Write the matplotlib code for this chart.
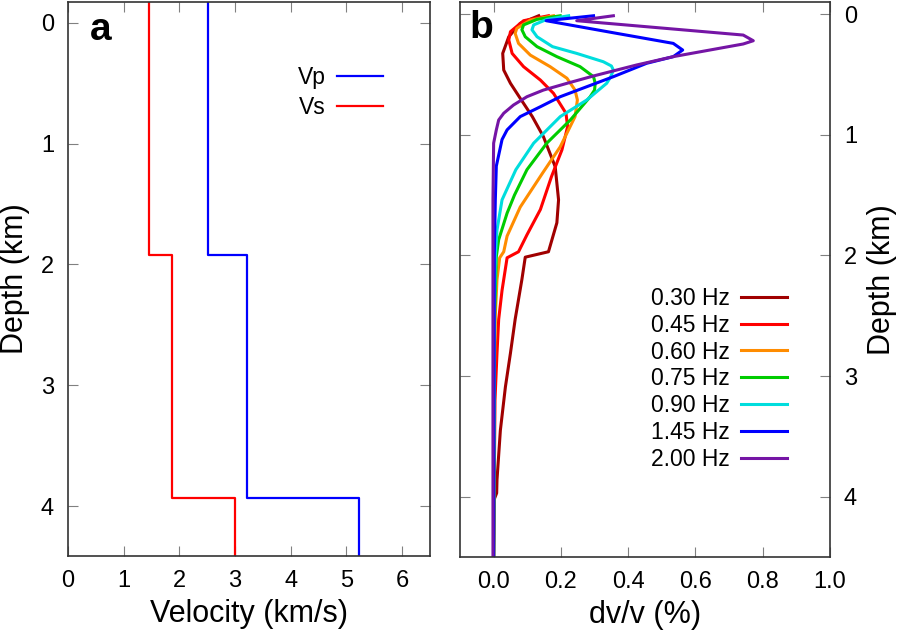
import numpy as np
import matplotlib
matplotlib.use('Agg')
import matplotlib.pyplot as plt

plt.rcParams['font.family'] = ['Liberation Sans', 'DejaVu Sans']

# Panel a: velocity model (step profile)
vel_depth = [-0.2, 1.925, 1.925, 3.93, 3.93, 4.5]
vp = [2.52, 2.52, 3.22, 3.22, 5.22, 5.22]
vs = [1.45, 1.45, 1.87, 1.87, 3.0, 3.0]

# Panel b: dv/v (%) sensitivity curves per frequency
freq_labels = ['0.30 Hz', '0.45 Hz', '0.60 Hz', '0.75 Hz', '0.90 Hz', '1.45 Hz', '2.00 Hz']
freq_colors = ['#a00000', '#ff0000', '#ff8c00', '#00cc00', '#00dddd', '#0000ff', '#7515a5']

d030 = [0.014, 0.077, 0.188, 0.326, 0.464, 0.574, 0.698, 0.85, 1.016, 1.265, 1.54, 1.73, 1.97, 2.015, 2.2, 2.53, 2.81, 3.09, 3.45, 3.86, 3.97, 4.02, 4.5]
v030 = [0.134, 0.079, 0.045, 0.027, 0.030, 0.050, 0.079, 0.115, 0.148, 0.183, 0.193, 0.188, 0.163, 0.094, 0.084, 0.064, 0.050, 0.035, 0.020, 0.010, 0.009, 0.002, 0.0]

d045 = [0.014, 0.055, 0.146, 0.215, 0.326, 0.436, 0.547, 0.657, 0.822, 0.933, 1.126, 1.347, 1.62, 1.83, 1.97, 2.02, 2.29, 2.53, 2.81, 3.2, 4.5]
v045 = [0.163, 0.089, 0.050, 0.045, 0.055, 0.089, 0.139, 0.178, 0.215, 0.220, 0.203, 0.172, 0.139, 0.099, 0.074, 0.040, 0.025, 0.015, 0.010, 0.004, 0.0]

d060 = [0.014, 0.05, 0.118, 0.16, 0.243, 0.34, 0.436, 0.532, 0.63, 0.712, 0.85, 1.10, 1.32, 1.60, 1.84, 1.97, 2.02, 2.2, 2.5, 3.0, 4.5]
v060 = [0.178, 0.109, 0.069, 0.064, 0.074, 0.109, 0.168, 0.218, 0.242, 0.249, 0.242, 0.198, 0.145, 0.079, 0.040, 0.030, 0.018, 0.010, 0.005, 0.002, 0.0]

d075 = [0.014, 0.044, 0.09, 0.13, 0.188, 0.27, 0.353, 0.436, 0.519, 0.574, 0.63, 0.685, 0.878, 1.07, 1.29, 1.50, 1.65, 1.87, 2.01, 2.5, 4.5]
v075 = [0.198, 0.129, 0.089, 0.084, 0.094, 0.129, 0.188, 0.257, 0.297, 0.302, 0.300, 0.287, 0.228, 0.158, 0.099, 0.062, 0.040, 0.015, 0.008, 0.003, 0.0]

d090 = [0.014, 0.044, 0.09, 0.13, 0.188, 0.27, 0.326, 0.395, 0.43, 0.464, 0.52, 0.574, 0.712, 0.85, 1.07, 1.29, 1.54, 1.79, 2.01, 2.5, 4.5]
v090 = [0.223, 0.158, 0.119, 0.114, 0.129, 0.175, 0.247, 0.326, 0.350, 0.356, 0.348, 0.336, 0.277, 0.198, 0.119, 0.066, 0.025, 0.010, 0.005, 0.002, 0.0]

d145 = [0.014, 0.055, 0.16, 0.243, 0.298, 0.353, 0.408, 0.519, 0.685, 0.768, 0.85, 0.96, 1.04, 1.26, 1.54, 2.0, 4.5]
v145 = [0.297, 0.156, 0.366, 0.534, 0.562, 0.534, 0.455, 0.356, 0.198, 0.139, 0.079, 0.040, 0.025, 0.008, 0.005, 0.002, 0.0]

d200 = [0.014, 0.055, 0.174, 0.221, 0.248, 0.353, 0.422, 0.513, 0.574, 0.63, 0.685, 0.754, 0.822, 0.878, 0.96, 1.07, 1.54, 4.5]
v200 = [0.356, 0.247, 0.742, 0.772, 0.742, 0.534, 0.425, 0.297, 0.218, 0.148, 0.099, 0.059, 0.030, 0.015, 0.008, 0.0, -0.002, -0.002]

depths = [d030, d045, d060, d075, d090, d145, d200]
dvv = [v030, v045, v060, v075, v090, v145, v200]

fig = plt.figure(figsize=(8.98, 6.34), dpi=100)
ax1 = fig.add_axes([68 / 898, 78 / 634, 362 / 898, 554 / 634])
ax2 = fig.add_axes([460 / 898, 77 / 634, 370 / 898, 555 / 634])

tick_fs = 17
label_fs = 22

# Panel a
ax1.plot(vp, vel_depth, color='#0000ff', lw=1.6, label='Vp')
ax1.plot(vs, vel_depth, color='#ff0000', lw=1.6, label='Vs')
ax1.set_xlim(0, 6.5)
ax1.set_ylim(4.41, -0.17)
ax1.set_xticks(range(0, 7))
ax1.set_yticks(range(0, 5))
ax1.set_xlabel('Velocity (km/s)', fontsize=label_fs, labelpad=5)
ax1.set_ylabel('Depth (km)', fontsize=label_fs, labelpad=8)
ax1.text(0.06, 0.982, 'a', transform=ax1.transAxes, fontsize=28, fontweight='bold', va='top')
ax1.legend(loc='upper right', bbox_to_anchor=(0.87, 0.885), frameon=False, markerfirst=False,
           fontsize=16.5, handlelength=2.0, handletextpad=0.5, labelspacing=0.3,
           borderpad=0, borderaxespad=0)
ax1.tick_params(direction='in', length=7, color='#808080', labelsize=tick_fs,
                top=True, right=True, pad=10)

# Panel b
for d, v, lab, c in zip(depths, dvv, freq_labels, freq_colors):
    ax2.plot(v, d, color=c, lw=2.2, label=lab)
ax2.set_xlim(-0.1, 1.0)
ax2.set_ylim(4.5, -0.1)
ax2.set_xticks([0.0, 0.2, 0.4, 0.6, 0.8, 1.0])
ax2.set_xticklabels(['0.0', '0.2', '0.4', '0.6', '0.8', '1.0'])
ax2.set_yticks(range(0, 5))
ax2.yaxis.set_label_position('right')
ax2.set_xlabel('dv/v (%)', fontsize=label_fs, labelpad=5)
ax2.set_ylabel('Depth (km)', fontsize=label_fs, labelpad=7)
ax2.text(0.025, 0.985, 'b', transform=ax2.transAxes, fontsize=28, fontweight='bold', va='top')
ax2.legend(loc='upper right', bbox_to_anchor=(0.884, 0.487), frameon=False, markerfirst=False,
           fontsize=16.5, handlelength=2.0, handletextpad=0.5, labelspacing=0.17,
           borderpad=0, borderaxespad=0)
ax2.tick_params(direction='in', length=7, color='#808080', labelsize=tick_fs,
                top=True, left=True, right=True, labelleft=False, labelright=True, pad=10)

for ax in (ax1, ax2):
    for s in ax.spines.values():
        s.set_color('#333333')
        s.set_linewidth(1.2)

fig.savefig('out.png', dpi=100)
